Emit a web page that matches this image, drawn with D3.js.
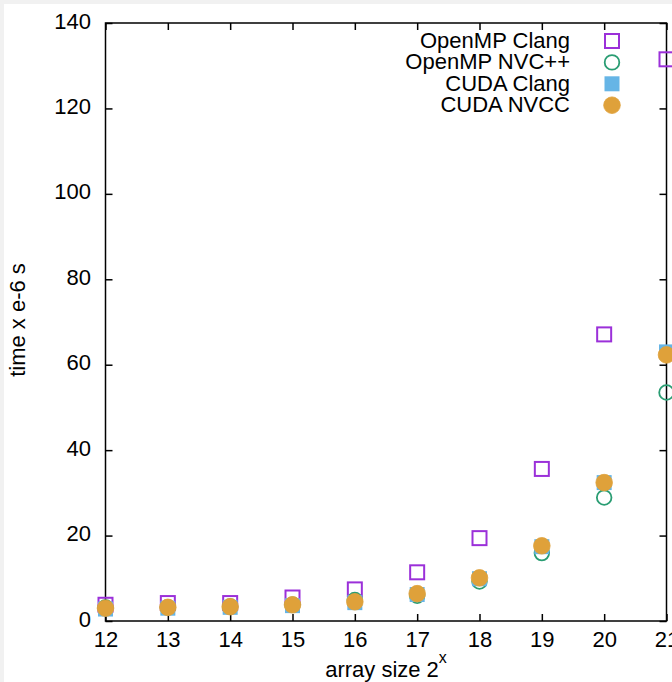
<!DOCTYPE html>
<html>
<head>
<meta charset="utf-8">
<script src="https://cdn.jsdelivr.net/npm/d3@7"></script>
<style>
  html, body { margin: 0; padding: 0; background: #f1f1f1; }
  .chart { position: absolute; left: 4px; top: 4px; width: 668px; height: 678px; background: #fff; }
  svg { position: absolute; left: 0; top: 0; }
  text { font-family: "Liberation Sans", Arial, sans-serif; fill: #000; }
</style>
</head>
<body>
<div class="chart"></div>
<script>
// x = log2 of array size
const sizes = [12, 13, 14, 15, 16, 17, 18, 19, 20, 21]
// times in microseconds
const ompClang = [3.8, 4.2, 4.2, 5.5, 7.4, 11.4, 19.4, 35.6, 67.1, 131.5]
const ompNvc = [3.2, 3.2, 3.4, 3.8, 4.9, 5.9, 9.25, 15.9, 28.9, 53.5]
const cudaClang = [2.8, 3.0, 3.2, 3.6, 4.3, 6.2, 9.9, 17.4, 32.4, 63.0]
const cudaNvcc = [3.0, 3.2, 3.35, 3.8, 4.5, 6.4, 10.1, 17.6, 32.4, 62.3]
const seriesNames = ["OpenMP Clang", "OpenMP NVC++", "CUDA Clang", "CUDA NVCC"]
const xTicks = [12, 13, 14, 15, 16, 17, 18, 19, 20, 21]
const yTicks = [0, 20, 40, 60, 80, 100, 120, 140]

const width = 672
const height = 682
const margin = ({top: 23, right: 5.5, bottom: 61, left: 105.5})
const tick = 7

// gnuplot-like colours
const series = [
  {name: seriesNames[0], values: ompClang, color: "#9b30d9", shape: "square", fill: false},
  {name: seriesNames[1], values: ompNvc, color: "#2a9d73", shape: "circle", fill: false},
  {name: seriesNames[2], values: cudaClang, color: "#66b5e6", shape: "square", fill: true},
  {name: seriesNames[3], values: cudaNvcc, color: "#dfa13a", shape: "circle", fill: true}
]

let x = d3.scaleLinear()
  .domain([12, 21])
  .range([margin.left, width - margin.right])

let y = d3.scaleLinear()
  .domain([0, 140])
  .range([height - margin.bottom, margin.top])

const svg = d3.select(".chart").append("svg")
    .attr("width", width)
    .attr("height", height)
    .attr("viewBox", [4, 4, width, height])

const fontSize = 22

let xAxis = g => g
  .attr("transform", `translate(0,${height - margin.bottom})`)
  .call(d3.axisBottom(x).tickValues(xTicks).tickSizeInner(-tick).tickSizeOuter(0).tickPadding(10.5))
  .call(g => g.select(".domain").remove())
  .call(g => g.selectAll("text").attr("font-size", fontSize))

let yAxis = g => g
  .attr("transform", `translate(${margin.left},0)`)
  .call(d3.axisLeft(y).tickValues(yTicks).tickSizeInner(-tick).tickSizeOuter(0).tickPadding(14.5))
  .call(g => g.select(".domain").remove())
  .call(g => g.selectAll("text").attr("font-size", fontSize).attr("dy", "0.23em"))

// mirrored ticks on top and right, no labels
let xAxisTop = g => g
  .attr("transform", `translate(0,${margin.top})`)
  .call(d3.axisTop(x).tickValues(xTicks).tickSizeInner(-tick).tickSizeOuter(0).tickFormat(""))
  .call(g => g.select(".domain").remove())

let yAxisRight = g => g
  .attr("transform", `translate(${width - margin.right},0)`)
  .call(d3.axisRight(y).tickValues(yTicks).tickSizeInner(-tick).tickSizeOuter(0).tickFormat(""))
  .call(g => g.select(".domain").remove())

svg.append("g").call(xAxis)
svg.append("g").call(yAxis)
svg.append("g").call(xAxisTop)
svg.append("g").call(yAxisRight)
svg.selectAll(".tick line").attr("stroke", "#000").attr("stroke-width", 1.5)

svg.append("rect")
    .attr("x", margin.left)
    .attr("y", margin.top)
    .attr("width", width - margin.right - margin.left)
    .attr("height", height - margin.bottom - margin.top)
    .attr("fill", "none")
    .attr("stroke", "#000")
    .attr("stroke-width", 1.5)

// axis titles
svg.append("text")
    .attr("text-anchor", "middle")
    .attr("font-size", fontSize)
    .attr("transform", "translate(25," + 320 + ")rotate(-90)")
    .text("time x e-6 s")

const xLabel = svg.append("text")
    .attr("text-anchor", "middle")
    .attr("font-size", fontSize)
    .attr("x", (margin.left + width - margin.right) / 2)
    .attr("y", 677)
xLabel.append("tspan").text("array size 2")
xLabel.append("tspan").attr("font-size", 16).attr("dy", -14).text("x")

// marker drawing
const drawMarker = (sel, s) => {
  if (s.shape === "square") {
    const side = s.fill ? 15 : 14
    sel.append("rect")
      .attr("x", -side / 2).attr("y", -side / 2)
      .attr("width", side).attr("height", side)
      .attr("fill", s.fill ? s.color : "none")
      .attr("stroke", s.fill ? "none" : s.color)
      .attr("stroke-width", 2)
  } else {
    sel.append("circle")
      .attr("r", s.fill ? 8.3 : 7.3)
      .attr("fill", s.fill ? s.color : "none")
      .attr("stroke", s.color)
      .attr("stroke-width", s.fill ? 0.8 : 1.8)
  }
}

series.forEach(s => {
  svg.append("g")
    .selectAll("g")
    .data(s.values.map((v, i) => ({x: sizes[i], y: v})))
    .join("g")
      .attr("transform", d => `translate(${x(d.x)},${y(d.y)})`)
      .each(function() { drawMarker(d3.select(this), s) })
})

// legend
const legend = svg.append("g")
series.forEach((s, i) => {
  const ly = 41 + i * 21.4
  legend.append("text")
    .attr("x", 570)
    .attr("y", ly + 7)
    .attr("text-anchor", "end")
    .attr("font-size", fontSize)
    .text(s.name)
  legend.append("g")
    .attr("transform", `translate(612,${ly})`)
    .call(g => drawMarker(g, s))
})
</script>
</body>
</html>
